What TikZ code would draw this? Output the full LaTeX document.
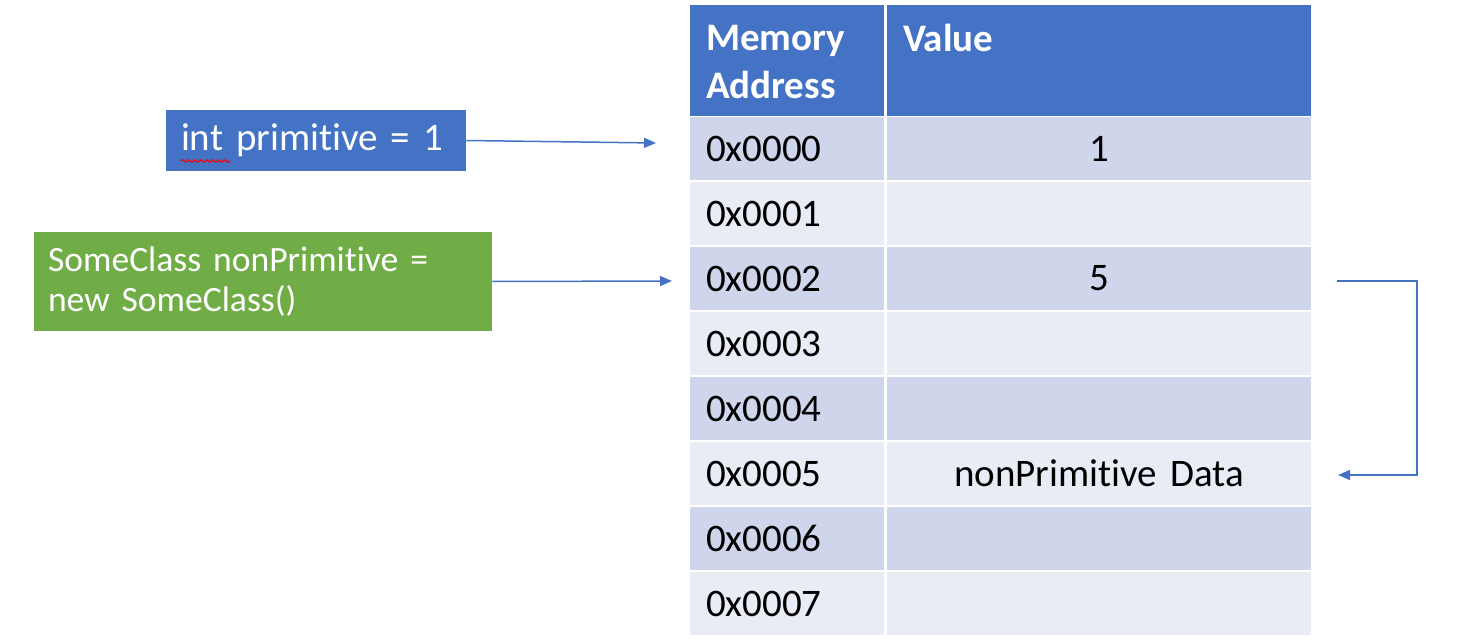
\documentclass[tikz,border=0pt]{standalone}
\usepackage{fontspec}
\setmainfont[Ligatures=NoCommon, RawFeature={-liga;-clig;-calt}, WordSpace=0.75]{Carlito}
\usepackage{xcolor}
\usetikzlibrary{positioning}
\usetikzlibrary{arrows.meta}
\usetikzlibrary{decorations.pathmorphing}

\definecolor{hdrblue}{HTML}{4472C4}
\definecolor{rowdark}{HTML}{CFD5EA}
\definecolor{rowlight}{HTML}{E9EBF5}
\definecolor{codegreen}{HTML}{70AD47}

\tikzset{
  addrcell/.style={fill=#1, text width=81pt, inner xsep=8pt, inner ysep=0pt,
    minimum height=31.5pt, align=left, font=\fontsize{19.5}{23.5}\selectfont},
  valcell/.style={fill=#1, text width=196pt, inner xsep=8pt, inner ysep=0pt,
    minimum height=31.5pt, align=center, font=\fontsize{19.5}{23.5}\selectfont},
  hdrcell/.style={fill=hdrblue, text=white, inner xsep=8pt, inner ysep=0pt,
    minimum height=54pt, align=left, font=\fontsize{19.5}{24.5}\selectfont\bfseries},
  ptr/.style={draw=hdrblue, line width=0.75pt, -{Triangle[length=6pt,width=5pt]}}
}

\begin{document}
\begin{tikzpicture}[x=0.5pt,y=-0.5pt]

\useasboundingbox (0,0) rectangle (1464,642);

% header of the table
\node[hdrcell, text width=81pt] (hdraddr) at (787,62) {Memory\\Address};
\node[hdrcell, text width=196pt] (hdrval) at (1099,62) {Value\\[0pt]\mbox{}};

% rows of the table
\foreach \i/\addr/\val in {0/0x0000/1,1/0x0001/,2/0x0002/5,3/0x0003/,
    4/0x0004/,5/0x0005/nonPrimi\kern0pt tive Data,6/0x0006/,7/0x0007/} {
  \pgfmathsetmacro{\rowy}{148.5+65*\i}
  \pgfmathparse{int(mod(\i,2))}
  \ifnum\pgfmathresult=0
    \def\shade{rowdark}
  \else
    \def\shade{rowlight}
  \fi
  \node[addrcell=\shade] (addr\i) at (787,\rowy) {\addr};
  \node[valcell=\shade] (val\i) at (1099,\rowy) {\val};
}

% top of the header fill
\fill[hdrblue] (690,5) rectangle (884,8);
\fill[hdrblue] (887,5) rectangle (1311,8);

% variables
\node[fill=hdrblue, text=white, text width=135pt, inner xsep=7.5pt, inner ysep=0pt,
  minimum height=30.5pt, align=left, font=\fontsize{19.5}{24}\selectfont]
  (prim) at (316,140.5) {int primi\kern0pt tive = 1};
\node[fill=codegreen, text=white, text width=215pt, inner xsep=7pt, inner ysep=0pt,
  minimum height=49.5pt, align=left, font=\fontsize{17.8}{20}\selectfont]
  (nonprim) at (263,281.5) {SomeClass nonPrimi\kern0pt tive =\\new SomeClass()};

% spell check underline
\draw[red, line width=0.6pt, decorate,
  decoration={snake, segment length=3pt, amplitude=0.6pt}] (181,161) -- (230,161);

% end points of the pointers
\coordinate (primend) at (656,143);
\coordinate (nonprimend) at (672,281);
\coordinate (refstart) at (1337,281);
\coordinate (refcorner) at (1417,475);
\coordinate (refend) at (1338,475);

% pointers
\draw[ptr] (prim.east) -- (primend);
\draw[ptr] (nonprim.east) -- (nonprimend);
\draw[ptr] (refstart) -| (refcorner) -- (refend);

\end{tikzpicture}
\end{document}
